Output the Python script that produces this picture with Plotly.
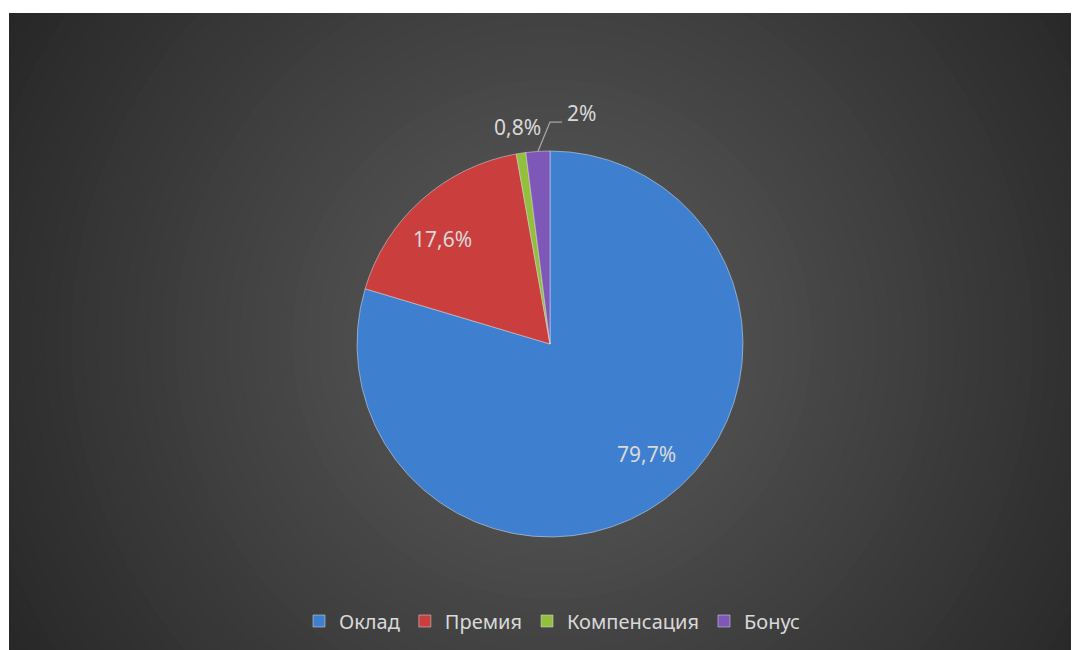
import math
import plotly.graph_objects as go

# ---- data ----
categories = ["Оклад", "Премия", "Компенсация", "Бонус"]
values = [79.7, 17.6, 0.8, 2]
label_text = [("%g" % v).replace(".", ",") + "%" for v in values]
colors = ["#3f7fd0", "#cb3e3e", "#92bf3c", "#7e57b8"]
label_radius = [0.76, 0.78, 1.135, None]   # fraction of pie radius; None = leader-line label
label_turn = [-4.6, -4.1, 0.0, 0.0]          # degrees of best-fit shift from mid-angle

# page is rendered with an 8px body margin -> figure coordinates
W, H = 1079, 650
PANEL_L, PANEL_T = 1, 5
CX, CY, R = 542, 336, 193
TXT = "#d9d9d9"
FONT = "Noto Sans"


def px(x, y):
    return x / W, 1 - y / H


fig = go.Figure()
fig.add_trace(go.Pie(
    labels=categories,
    values=values,
    textinfo="none",
    sort=False,
    direction="clockwise",
    rotation=0,
    marker=dict(colors=colors, line=dict(color="rgba(225,225,225,0.5)", width=1)),
    domain=dict(x=[(CX - R) / W, (CX + R) / W], y=[1 - (CY + R) / H, 1 - (CY - R) / H]),
    hoverinfo="label+percent",
))

# labels positioned from the slice angles
total = sum(values)
annotations = []
shapes = []
cum = 0.0
mids = []
for v in values:
    mids.append((cum + v / 2) / total * 2 * math.pi)
    cum += v

for i, (t, frac) in enumerate(zip(label_text, label_radius)):
    a = mids[i] + math.radians(label_turn[i])
    if frac is not None:
        x, y = px(CX + math.sin(a) * R * frac, CY - math.cos(a) * R * frac)
        annotations.append(dict(x=x, y=y, xref="paper", yref="paper", text=t, showarrow=False,
                                xanchor="center", yanchor="middle",
                                font=dict(family=FONT, size=21, color=TXT)))
    else:
        sx, sy = CX + math.sin(a) * R, CY - math.cos(a) * R
        ex, ey = CX, CY - R * 1.15
        hx = ex + 12
        p = [px(sx, sy), px(ex, ey), px(hx, ey)]
        shapes.append(dict(type="path", xref="paper", yref="paper", layer="above",
                           path="M %f %f L %f %f L %f %f" % (p[0][0], p[0][1], p[1][0], p[1][1], p[2][0], p[2][1]),
                           line=dict(color="#a6a6a6", width=1.3)))
        tx, ty = px(hx + 3, ey - 9)
        annotations.append(dict(x=tx, y=ty, xref="paper", yref="paper", text=t, showarrow=False,
                                xanchor="left", yanchor="middle",
                                font=dict(family=FONT, size=21, color=TXT)))

# radial gradient background approximated with concentric circles
bg = []
gcx, gcy = (PANEL_L + W + 8) / 2, (PANEL_T + H + 8) / 2
c_in, c_out = 0x5e, 0x26
n = 50
rmax = 650
for i in range(n):
    r = rmax * (1 - i / n)
    c = int(round(c_in + (c_out - c_in) * (r / rmax)))
    bg.append(dict(type="circle", xref="paper", yref="paper", layer="below",
                   x0=(gcx - r) / W, x1=(gcx + r) / W,
                   y0=1 - (gcy + r) / H, y1=1 - (gcy - r) / H,
                   fillcolor="rgb(%d,%d,%d)" % (c, c, c), line=dict(width=0)))
bg.append(dict(type="rect", xref="paper", yref="paper", layer="below",
               x0=-0.5, x1=PANEL_L / W, y0=-0.5, y1=1.5, fillcolor="white", line=dict(width=0)))
bg.append(dict(type="rect", xref="paper", yref="paper", layer="below",
               x0=-0.5, x1=1.5, y0=1 - PANEL_T / H, y1=1.5, fillcolor="white", line=dict(width=0)))

fig.update_layout(
    width=W, height=H,
    margin=dict(l=0, r=0, t=0, b=0),
    paper_bgcolor="#2a2a2a",
    plot_bgcolor="rgba(0,0,0,0)",
    shapes=bg + shapes,
    annotations=annotations,
    showlegend=True,
    legend=dict(orientation="h", x=px(544, 0)[0], xanchor="center", y=px(0, 613)[1], yanchor="middle",
                font=dict(family=FONT, size=20, color=TXT), itemwidth=30,
                bgcolor="rgba(0,0,0,0)", itemclick=False),
)

fig.write_html("out.html")
